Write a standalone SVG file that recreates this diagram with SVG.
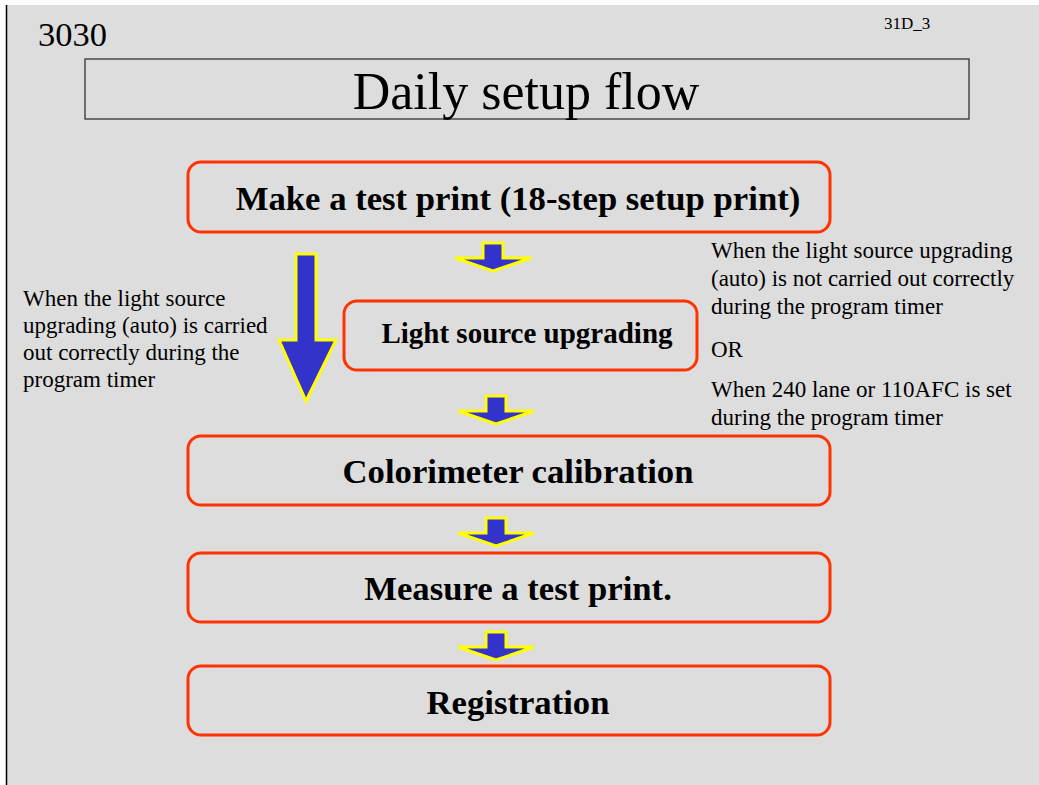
<svg xmlns="http://www.w3.org/2000/svg" width="1039" height="785" viewBox="0 0 1039 785">
<style>
.box{fill:none;stroke:#FF3300;stroke-width:3}
.bt{font-family:"Liberation Serif",serif;font-weight:bold;fill:#000;text-anchor:middle}
.nt{font-family:"Liberation Serif",serif;fill:#000;font-size:23px}
.arr{fill:#3333CC;stroke:#FFFF00;stroke-width:3;stroke-linejoin:miter}
</style>
<defs>
<path id="sa" d="M-10,0 H10 V15 H38 L0,28 L-38,15 H-10 Z"/>
</defs>
<rect x="0" y="0" width="1039" height="785" fill="#FFFFFF"/>
<rect x="6" y="5" width="1033" height="780" fill="#DDDDDD"/>
<line x1="6.5" y1="5" x2="6.5" y2="785" stroke="#000" stroke-width="1.5"/>
<text x="38" y="46" font-family="Liberation Serif,serif" font-size="34.5">3030</text>
<text x="884" y="29" font-family="Liberation Serif,serif" font-size="17">31D_3</text>
<rect x="85" y="59" width="884" height="60" fill="none" stroke="#333" stroke-width="1.3"/>
<text x="526" y="109" font-family="Liberation Serif,serif" font-size="52" text-anchor="middle">Daily setup flow</text>
<g id="connectors">
<use href="#sa" x="493" y="243" class="arr"/>
<use href="#sa" x="496" y="396" class="arr"/>
<use href="#sa" x="496" y="518" class="arr"/>
<use href="#sa" x="496" y="632" class="arr"/>
<path class="arr" d="M296,254 H316 V340 H336 L306,401 L279,340 H296 Z"/>
</g>
<g id="node1">
<rect class="box" x="188" y="162" width="642" height="70" rx="13"/>
<text class="bt" x="518" y="210" font-size="34.7">Make a test print (18-step setup print)</text>
</g>
<g id="node2">
<rect class="box" x="344" y="301" width="353" height="69" rx="13"/>
<text class="bt" x="527" y="343" font-size="29">Light source upgrading</text>
</g>
<g id="node3">
<rect class="box" x="188" y="436" width="642" height="69" rx="13"/>
<text class="bt" x="518" y="483" font-size="34.7">Colorimeter calibration</text>
</g>
<g id="node4">
<rect class="box" x="188" y="553" width="642" height="69" rx="13"/>
<text class="bt" x="518" y="600" font-size="34.7">Measure a test print.</text>
</g>
<g id="node5">
<rect class="box" x="188" y="666" width="642" height="69" rx="13"/>
<text class="bt" x="518" y="714" font-size="34.7">Registration</text>
</g>
<g id="label-left">
<text class="nt" x="23" y="306">When the light source</text>
<text class="nt" x="23" y="333">upgrading (auto) is carried</text>
<text class="nt" x="23" y="360">out correctly during the</text>
<text class="nt" x="23" y="387">program timer</text>
</g>
<g id="label-right">
<text class="nt" x="711" y="258">When the light source upgrading</text>
<text class="nt" x="711" y="286">(auto) is not carried out correctly</text>
<text class="nt" x="711" y="314">during the program timer</text>
<text class="nt" x="711" y="357">OR</text>
<text class="nt" x="711" y="397">When 240 lane or 110AFC is set</text>
<text class="nt" x="711" y="425">during the program timer</text>
</g>
</svg>
